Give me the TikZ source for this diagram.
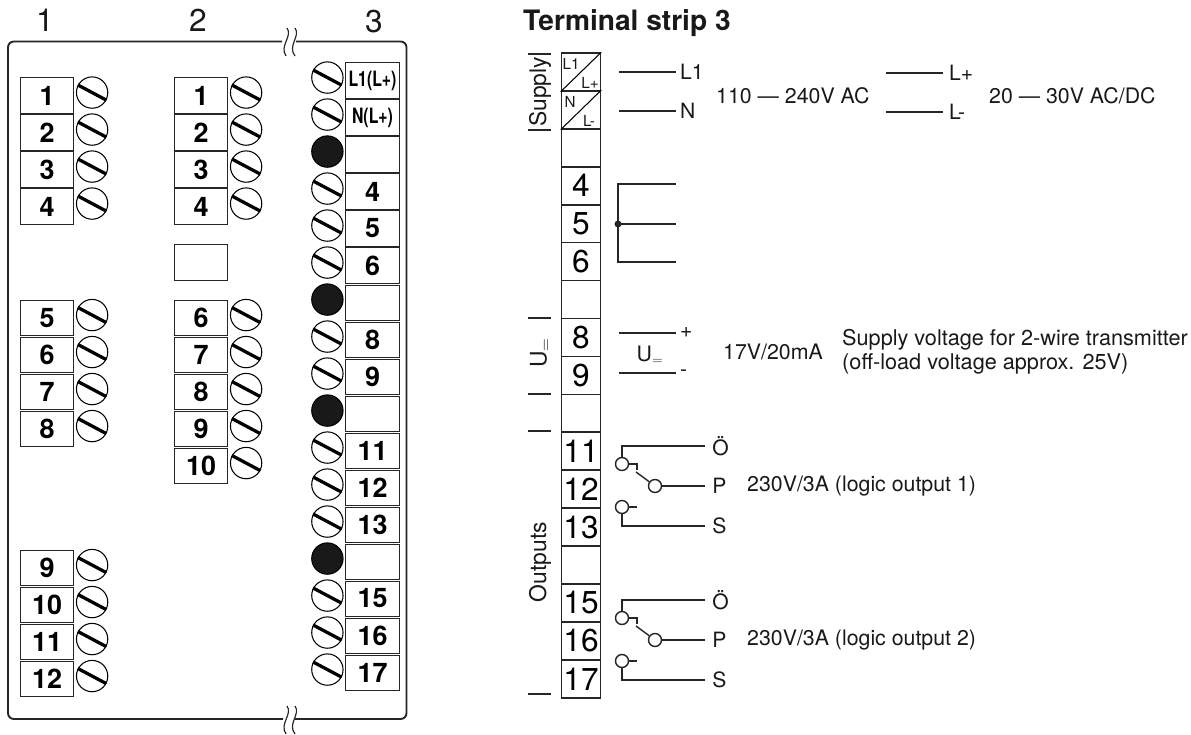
\documentclass[tikz,border=0pt]{standalone}
\usepackage{fontspec}
\usetikzlibrary{positioning}
\setmainfont{TeX Gyre Heros}
\newcommand{\fs}[1]{\fontsize{#1}{#1}\selectfont}
\tikzset{
	termbox/.style={draw=black!85,line width=.85pt,minimum width=1.6cm,minimum height=1.05cm,inner sep=0pt,font=\fs{23}\bfseries},
	screw/.style={draw,circle,line width=.9pt,minimum size=.94cm,inner sep=0pt},
	hole/.style={screw,fill=black!90},
	slot/.style={line width=2.8pt},
	stripbox/.style={draw=black!85,line width=1.4pt,minimum width=1.17cm,minimum height=1.138cm,inner sep=0pt,font=\fs{27}},
	wire/.style={line width=1.2pt,black!85},
	lab/.style={inner sep=0pt,font=\fs{18.2},black!90},
	endlab/.style={lab,anchor=west,inner xsep=3.4pt,font=\fs{18}},
	contact/.style={draw=black!85,fill=white,circle,line width=1.2pt,minimum size=.39cm,inner sep=0pt}
}
\begin{document}
\begin{tikzpicture}[x=.03cm,y=-.03cm]
	\useasboundingbox (0,0) rectangle (1191,735);

	\node[lab,font=\fs{27}] (head1) at (45,20) {1};
	\node[lab,font=\fs{27}] (head2) at (198,20) {2};
	\node[lab,font=\fs{27}] (head3) at (374,22) {3};

	\draw[line width=1.6pt,black!85,rounded corners=5pt] (282,41.5)--(8,41.5)--(8,719)--(283,719);
	\draw[line width=1.6pt,black!85,rounded corners=5pt] (296,41.5)--(406.5,41.5)--(406.5,719)--(295,719);
	\foreach \t in {0,678}{
		\draw[line width=1pt,black!85] (287,28+\t) .. controls (293,36+\t) and (279,46+\t) .. (286,56+\t);
		\draw[line width=1pt,black!85] (295,28+\t) .. controls (301,36+\t) and (287,46+\t) .. (295,56+\t);
	}

	\foreach \n/\y in {1/95.5,2/132.5,3/169.5,4/206.5,5/318,6/355,7/392,8/429,9/568,10/605,11/642,12/679}{
		\node[termbox] (boxa\n) at (47,\y) {\n};
		\node[screw,right=1.5pt of boxa\n,yshift=2.5pt] (screwa\n) {};
		\draw[slot] (screwa\n.152)--(screwa\n.-28);
	}
	\foreach \n/\y in {1/95.5,2/132.5,3/169.5,4/206.5,6/318,7/355,8/392,9/429,10/466}{
		\node[termbox] (boxb\n) at (201,\y) {\n};
		\node[screw,right=1.5pt of boxb\n,yshift=2.5pt] (screwb\n) {};
		\draw[slot] (screwb\n.152)--(screwb\n.-28);
	}
	\node[termbox] (boxblank) at (201,262.5) {};

	\foreach \n/\t/\y in {1/{\fs{18}\scalebox{.75}[1]{L1(L+)}}/80.5,2/{\fs{18}\scalebox{.75}[1]{N(L+)}\hspace{5pt}}/117.5,4/4/191.5,5/5/228.5,6/6/265.5,8/8/339.5,9/9/376.5,11/11/450.5,12/12/487.5,13/13/524.5,15/15/598.5,16/16/635.5,17/17/672.5}{
		\node[termbox] (boxc\n) at (372.5,\y) {\t};
		\node[screw,left=1.5pt of boxc\n,yshift=2.5pt] (screwc\n) {};
		\draw[slot] (screwc\n.152)--(screwc\n.-28);
	}
	\foreach \n/\y in {3/154.5,7/302.5,10/413.5,14/561.5}{
		\node[termbox] (boxc\n) at (372.5,\y) {};
		\node[hole,left=1.5pt of boxc\n,yshift=2.5pt] (screwc\n) {};
	}

	\node[lab,anchor=west,font=\fs{24}\bfseries] (title) at (523,23) {Terminal strip 3};

	\foreach \n/\t in {1/,2/,3/,4/4,5/5,6/6,7/,8/8,9/9,10/,11/11,12/12,13/13,14/,15/15,16/16,17/17}{
		\node[stripbox] (strip\n) at (581,34+37.93*\n) {\t};
	}
	\draw[line width=.9pt] (strip1.south west)--(strip1.north east);
	\draw[line width=.9pt] (strip2.south west)--(strip2.north east);
	\node[lab,font=\fs{13}] (l1a) at (571,64) {L1};
	\node[lab,font=\fs{13}] (lpa) at (590,83) {L+};
	\node[lab,font=\fs{13}] (na) at (570,102) {N};
	\node[lab,font=\fs{13}] (lma) at (589,121) {L-};

	\foreach \y in {54,130,318,394,431,694}{
		\draw[line width=1.2pt,black!85] (528,\y)--(551,\y);
	}
	\node[lab,rotate=90,font=\fs{19.5}] (supply) at (540,92) {Supply};
	\node[lab,rotate=90,font=\fs{19.5}] (uleft) at (540,353) {U$_=$};
	\node[lab,rotate=90,font=\fs{19.5}] (outputs) at (540,562) {Outputs};

	\coordinate (wl1) at (619,72);
	\coordinate (wn) at (619,111);
	\node[endlab] (tl1) at (676,72) {L1};
	\node[endlab] (tn) at (676,111) {N};
	\draw[wire] (wl1)--(tl1);
	\draw[wire] (wn)--(tn);
	\node[lab,anchor=west] (ac) at (716,96) {110 — 240V AC};
	\coordinate (wlp) at (886,73);
	\coordinate (wlm) at (886,112);
	\node[endlab,inner xsep=5pt] (tlp) at (943,73) {L+};
	\node[endlab,inner xsep=5pt] (tlm) at (943,112) {L-};
	\draw[wire] (wlp)--(tlp);
	\draw[wire] (wlm)--(tlm);
	\node[lab,anchor=west] (dc) at (989,96) {20 — 30V AC/DC};

	\coordinate (jn) at (618,224);
	\coordinate (ja) at (676,184);
	\coordinate (jb) at (676,224);
	\coordinate (jc) at (676,262);
	\draw[wire] (ja)-|(jn);
	\draw[wire] (jc)-|(jn);
	\draw[wire] (jn)--(jb);
	\fill[black!85] (jn) circle (3.5);

	\coordinate (wup) at (619,333);
	\coordinate (wum) at (619,373);
	\node[endlab] (tup) at (676,333) {+};
	\node[endlab] (tum) at (676,373) {-};
	\draw[wire] (wup)--(tup);
	\draw[wire] (wum)--(tum);
	\node[lab] (umid) at (650,355) {U$_=$};
	\node[lab,anchor=west] (curr) at (723,352) {17V/20mA};
	\node[lab,anchor=west,align=left,font=\fs{18.5}] (trans) at (842,352) {Supply voltage for 2-wire transmitter\\[2pt](off-load voltage approx. 25V)};

	\foreach \r/\o/\n in {a/0/1,b/154/2}{
		\node[contact] (on\r) at (622,464+\o) {};
		\node[contact] (pl\r) at (655,486+\o) {};
		\node[contact] (sc\r) at (622,507+\o) {};
		\node[endlab,inner xsep=6pt] (to\r) at (705,446+\o) {Ö};
		\node[endlab,inner xsep=6pt] (tp\r) at (705,486+\o) {P};
		\node[endlab,inner xsep=6pt] (ts\r) at (705,526+\o) {S};
		\node[lab,anchor=west] (rate\r) at (747,486+\o) {230V/3A (logic output \n)};
		\draw[wire] (on\r)|-(to\r);
		\draw[wire] (pl\r)--(tp\r);
		\draw[wire] (sc\r)|-(ts\r);
		\draw[wire] (on\r)-|(637,470+\o);
		\draw[wire] (636,472+\o)--(pl\r);
		\draw[wire] (sc\r)--(637,507+\o);
	}
\end{tikzpicture}
\end{document}
